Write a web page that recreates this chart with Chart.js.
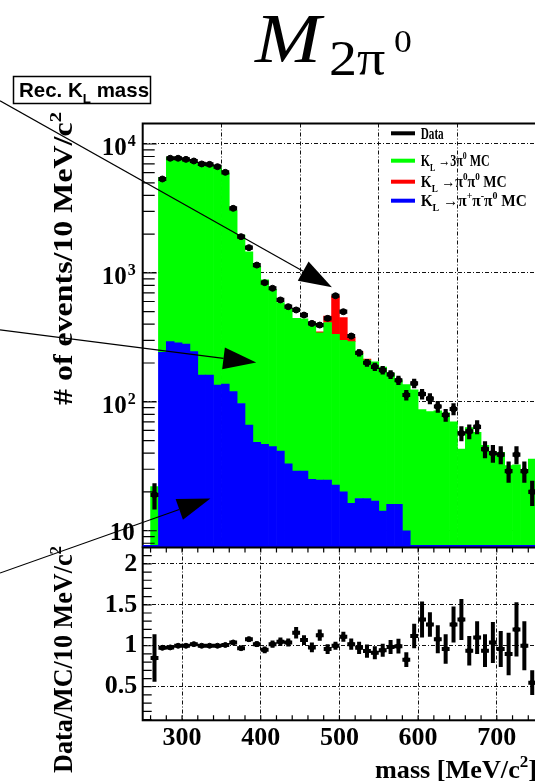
<!DOCTYPE html>
<html lang="en">
<head>
<meta charset="utf-8">
<title>M(2pi0) reconstructed mass</title>
<script src="https://cdn.jsdelivr.net/npm/chart.js@4.4.1/dist/chart.umd.min.js"></script>
<style>
  html, body { margin: 0; padding: 0; background: #fff; overflow: hidden; }
  #page { position: relative; width: 535px; height: 784px; overflow: hidden; background: #fff; }
  #page canvas { position: absolute; left: 0; top: 0; }
</style>
</head>
<body>
<div id="page">
  <canvas id="upper" width="600" height="784"></canvas>
  <canvas id="lower" width="600" height="784"></canvas>
</div>
<script>
const SERIF = '"Liberation Serif", "Times New Roman", serif';
const SANS = '"Liberation Sans", Arial, sans-serif';

/* 10 MeV/c^2 bins (centres) */
const binCenters = [265, 275, 285, 295, 305, 315, 325, 335, 345, 355,
  365, 375, 385, 395, 405, 415, 425, 435, 445, 455,
  465, 475, 485, 495, 505, 515, 525, 535, 545, 555,
  565, 575, 585, 595, 605, 615, 625, 635, 645, 655,
  665, 675, 685, 695, 705, 715, 725, 735, 745];
const binWidth = 10;

/* events per bin */
const dataCounts = [19, 5350, 7750, 7750, 7600, 7380, 7000, 6950, 6670, 6030,
  3170, 1910, 1570, 1150, 840, 760, 617, 547, 516, 471,
  406, 394, 444, 665, 500, 324, 240, 201, 187, 176,
  163, 147, 113, 139, 115, 106, 92, 79, 88, 57,
  59, 64, 43, 40, 39, 29, 39, 29, 20];

/* K_L -> pi+ pi- pi0 MC */
const mcPiPiPi0 = [0, 242, 293, 287, 281, 245, 161, 161, 135, 137,
  120, 97, 66, 48.5, 46.8, 44.9, 41.5, 33, 29, 29,
  25, 24.7, 24.7, 22.6, 20, 16.3, 17.8, 17.8, 17, 14.2,
  16, 16, 10, 0, 0, 0, 0, 0, 0, 0,
  0, 0, 0, 0, 0, 0, 0, 0, 0];

/* K_L -> 3pi0 MC */
const mc3Pi0 = [22, 5245, 7615, 7463, 7319, 6990, 6839, 6789, 6535, 5833,
  2928, 1872, 1388, 1079, 837, 700, 546, 493, 416, 411,
  389, 318, 388, 312, 280, 277, 220, 193, 187, 172,
  150, 132, 126, 124, 87, 84, 85, 82, 70, 43,
  63, 58, 46, 38.5, 40.6, 32, 32.5, 29, 36];

/* K_L -> pi0 pi0 MC */
const mc2Pi0 = [0, 0, 0, 0, 0, 0, 0, 0, 0, 0,
  0, 0, 0, 0, 0, 0, 0, 0, 0, 0,
  0, 6, 50, 330, 150, 25, 8, 4, 0, 0,
  0, 0, 0, 0, 0, 0, 0, 0, 0, 0,
  0, 0, 0, 0, 0, 0, 0, 0, 0];

/* Data / MC */
const ratioValues = [0.85, 0.975, 0.98, 1.0, 1.0, 1.02, 1.0, 1.0, 1.0, 1.01,
  1.04, 0.97, 1.08, 1.02, 0.95, 1.02, 1.05, 1.04, 1.16, 1.07,
  0.98, 1.13, 0.96, 1.0, 1.11, 1.02, 0.975, 0.935, 0.915, 0.945,
  0.985, 0.995, 0.83, 1.12, 1.32, 1.26, 1.08, 0.96, 1.26, 1.32,
  0.94, 1.10, 0.94, 1.04, 0.96, 0.90, 1.20, 1.0, 0.55];
const ratioErrors = [0.29, 0.012, 0.012, 0.012, 0.012, 0.012, 0.012, 0.012, 0.012, 0.013,
  0.02, 0.025, 0.03, 0.035, 0.04, 0.045, 0.05, 0.05, 0.07, 0.06,
  0.06, 0.07, 0.06, 0.05, 0.06, 0.07, 0.075, 0.08, 0.08, 0.08,
  0.085, 0.09, 0.09, 0.15, 0.22, 0.15, 0.17, 0.18, 0.22, 0.25,
  0.18, 0.20, 0.20, 0.25, 0.22, 0.26, 0.33, 0.30, 0.15];

/* axes */
const massRange = [250, 800];
const countRange = [7.52, 14420];
const ratioRange = [0.09, 2.2];
const massTicks = [300, 400, 500, 600, 700, 800];
const countTicks = [10, 100, 1000, 10000];
const ratioTicks = [0.5, 1, 1.5, 2];

/* arrows from the left margin: tail height in counts, tip in (mass, counts) */
const arrows = [
  { tailCount: 21600, tipMass: 490.5, tipCount: 773 },
  { tailCount: 361, tipMass: 394.3, tipCount: 202 },
  { tailCount: 4.7, tipMass: 336, tipCount: 17.8 }
];

const legendRows = [
  { color: '#000000', width: 23, parts: [['Data', 0]] },
  { color: '#00ff00', width: 69, parts: [['K', 0], ['L', 1], [' \u21923\u03c0', 0], ['0', 2], [' MC', 0]] },
  { color: '#ff0000', width: 86, parts: [['K', 0], ['L', 1], [' \u2192\u03c0', 0], ['0', 2], ['\u03c0', 0], ['0', 2], [' MC', 0]] },
  { color: '#0000ff', width: 106, parts: [['K', 0], ['L', 1], [' \u2192\u03c0', 0], ['+', 2], ['\u03c0', 0], ['-', 2], ['\u03c0', 0], ['0', 2], [' MC', 0]] }
];

/* ---- text helpers: parts are [text, kind], kind 0 normal, 1 sub, 2 sup ---- */
function richText(ctx, parts, x, y, size, style, family, draw) {
  let cx = x;
  for (const [t, kind] of parts) {
    const s = kind ? size * 0.65 : size;
    const dy = kind === 1 ? size * 0.28 : (kind === 2 ? -size * 0.42 : 0);
    ctx.font = style + ' ' + s + 'px ' + family;
    if (draw !== false) ctx.fillText(t, cx, y + dy);
    cx += ctx.measureText(t).width;
  }
  return cx - x;
}

// squeeze or stretch a line of text to a given length
function fittedText(ctx, parts, x, y, size, style, family, length, align) {
  const w = richText(ctx, parts, 0, 0, size, style, family, false);
  const sx = length / w;
  ctx.save();
  ctx.translate(align === 'right' ? x - length : (align === 'center' ? x - length / 2 : x), y);
  ctx.scale(sx, 1);
  ctx.textAlign = 'left';
  ctx.textBaseline = 'alphabetic';
  richText(ctx, parts, 0, 0, size, style, family);
  ctx.restore();
}

function strokeSegments(ctx, segs) {
  ctx.beginPath();
  for (const s of segs) { ctx.moveTo(s[0], s[1]); ctx.lineTo(s[2], s[3]); }
  ctx.stroke();
}

function gridAxis(extra) {
  return Object.assign({
    grid: { color: '#111', lineWidth: 1, drawTicks: false },
    border: { display: false, dash: [4, 2, 1, 2] }
  }, extra);
}

/* ---- upper pad: stacked MC and data ---- */
const upperDecor = {
  id: 'upperDecor',
  afterDatasetsDraw(chart) {
    const { ctx, chartArea: a, scales: { x, y } } = chart;
    ctx.save();
    ctx.beginPath();
    ctx.rect(a.left, a.top, a.right - a.left, a.bottom - a.top);
    ctx.clip();
    // data with statistical errors
    ctx.strokeStyle = '#000';
    ctx.lineWidth = 4.2;
    const segs = [];
    binCenters.forEach((c, i) => {
      const n = dataCounts[i], e = Math.sqrt(n);
      const px = x.getPixelForValue(c), py = y.getPixelForValue(n);
      segs.push([x.getPixelForValue(c - binWidth / 2), py, x.getPixelForValue(c + binWidth / 2), py]);
      segs.push([px, y.getPixelForValue(n + e), px, y.getPixelForValue(n - e)]);
    });
    strokeSegments(ctx, segs);
    ctx.restore();

    // frame and inner ticks
    ctx.save();
    ctx.strokeStyle = '#000';
    ctx.lineWidth = 2;
    ctx.strokeRect(a.left, a.top, a.right - a.left, a.bottom - a.top);
    ctx.lineWidth = 1.2;
    const ticks = [];
    for (let k = 0; k <= 4; k++) {
      for (let m = 1; m <= 9; m++) {
        const v = m * Math.pow(10, k);
        if (v < countRange[0] || v > countRange[1]) continue;
        const py = y.getPixelForValue(v);
        ticks.push([a.left, py, a.left + (m === 1 ? 14 : 12), py]);
      }
    }
    strokeSegments(ctx, ticks);
    // empty-bin outline of the pi+pi-pi0 histogram
    ctx.strokeStyle = '#0000ff';
    ctx.lineWidth = 2.5;
    strokeSegments(ctx, [[a.left, a.bottom - 0.5, a.right, a.bottom - 0.5]]);
    ctx.restore();
  },
  afterDraw(chart) {
    const { ctx, chartArea: a, scales: { y } } = chart;
    ctx.save();
    ctx.fillStyle = '#000';
    ctx.textBaseline = 'alphabetic';

    // y tick labels 10^n
    countTicks.forEach(v => {
      const py = y.getPixelForValue(v);
      const exp = Math.round(Math.log10(v));
      ctx.textAlign = 'right';
      if (exp === 1) {
        ctx.font = 'bold 25px ' + SERIF;
        ctx.fillText('10', a.left - 8, py + 9);
      } else {
        ctx.font = 'bold 16px ' + SERIF;
        ctx.fillText(String(exp), a.left - 7, py + 2);
        const ew = ctx.measureText(String(exp)).width;
        ctx.font = 'bold 25px ' + SERIF;
        ctx.fillText('10', a.left - 8 - ew, py + 11);
      }
    });
    ctx.textAlign = 'left';

    // legend
    const lx0 = a.left + 248.3, lx1 = a.left + 272.3, tx = a.left + 278;
    const rowY = [9.8, 37.2, 58.2, 77.2];
    legendRows.forEach((row, i) => {
      const ry = a.top + rowY[i];
      ctx.strokeStyle = row.color;
      ctx.lineWidth = 4;
      strokeSegments(ctx, [[lx0, ry, lx1, ry]]);
      ctx.fillStyle = '#000';
      fittedText(ctx, row.parts, tx, ry + 5.5, 16.5, 'bold', SERIF, row.width, 'left');
    });

    // title
    ctx.save();
    ctx.translate(255, 62);
    ctx.scale(1.13, 1);
    ctx.font = 'italic 70px ' + SERIF;
    ctx.fillText('M', 0, 0);
    ctx.restore();
    ctx.save();
    ctx.translate(329, 75);
    ctx.scale(1.12, 1);
    ctx.font = '50px ' + SERIF;
    ctx.fillText('2\u03c0', 0, 0);
    ctx.restore();
    ctx.save();
    ctx.translate(394, 52);
    ctx.scale(1.15, 1);
    ctx.font = '31px ' + SERIF;
    ctx.fillText('0', 0, 0);
    ctx.restore();

    // selection label
    ctx.lineWidth = 1.5;
    ctx.strokeStyle = '#000';
    ctx.strokeRect(13.5, 76.5, 137, 27);
    richText(ctx, [['Rec. K', 0], ['L', 1], [' mass', 0]], 19, 97, 20.5, 'bold', SANS);

    // y axis title
    ctx.save();
    ctx.translate(72, 258.5);
    ctx.rotate(-Math.PI / 2);
    fittedText(ctx, [['# of events/10 MeV/c', 0], ['2', 2]], 0, 0, 27, 'bold', SERIF, 293, 'center');
    ctx.restore();
    ctx.restore();
  }
};

const upperChart = new Chart(document.getElementById('upper'), {
  type: 'bar',
  data: {
    datasets: [
      {
        type: 'scatter', label: 'Data', order: 0,
        data: binCenters.map((c, i) => ({ x: c, y: dataCounts[i] })),
        backgroundColor: '#000', borderColor: '#000', pointRadius: 3, pointStyle: 'circle'
      },
      {
        label: 'K_L -> pi+ pi- pi0 MC', order: 1, stack: 'mc',
        data: binCenters.map((c, i) => ({ x: c, y: mcPiPiPi0[i] })),
        backgroundColor: '#0000ff', borderWidth: 0
      },
      {
        label: 'K_L -> 3pi0 MC', order: 1, stack: 'mc',
        data: binCenters.map((c, i) => ({ x: c, y: mc3Pi0[i] })),
        backgroundColor: '#00ff00', borderWidth: 0
      },
      {
        label: 'K_L -> pi0 pi0 MC', order: 1, stack: 'mc',
        data: binCenters.map((c, i) => ({ x: c, y: mc2Pi0[i] })),
        backgroundColor: '#ff0000', borderWidth: 0
      }
    ]
  },
  options: {
    responsive: false,
    animation: false,
    devicePixelRatio: 1,
    barPercentage: 1,
    categoryPercentage: 1,
    layout: { padding: { top: 123.5, right: 24.5, bottom: 237.3, left: 0 } },
    plugins: { legend: { display: false }, tooltip: { enabled: false } },
    scales: {
      x: gridAxis({
        type: 'linear', min: massRange[0], max: massRange[1], offset: false,
        afterBuildTicks: s => { s.ticks = massTicks.map(v => ({ value: v })); },
        afterFit: s => { s.height = 0; },
        ticks: { display: false }
      }),
      y: gridAxis({
        type: 'logarithmic', min: countRange[0], max: countRange[1], stacked: true,
        afterBuildTicks: s => { s.ticks = countTicks.map(v => ({ value: v })); },
        afterFit: s => { s.width = 142.7; },
        ticks: { display: false }
      })
    }
  },
  plugins: [upperDecor]
});

/* ---- lower pad: Data/MC ratio ---- */
const lowerDecor = {
  id: 'lowerDecor',
  afterDatasetsDraw(chart) {
    const { ctx, chartArea: a, scales: { x, y } } = chart;
    ctx.save();
    ctx.beginPath();
    ctx.rect(a.left, a.top, a.right - a.left, a.bottom - a.top);
    ctx.clip();
    ctx.strokeStyle = '#000';
    ctx.lineWidth = 4;
    const segs = [];
    binCenters.forEach((c, i) => {
      const r = ratioValues[i], e = ratioErrors[i];
      const px = x.getPixelForValue(c), py = y.getPixelForValue(r);
      segs.push([x.getPixelForValue(c - binWidth / 2), py, x.getPixelForValue(c + binWidth / 2), py]);
      segs.push([px, y.getPixelForValue(r + e), px, y.getPixelForValue(r - e)]);
    });
    strokeSegments(ctx, segs);
    ctx.restore();

    ctx.save();
    ctx.strokeStyle = '#000';
    ctx.lineWidth = 2;
    ctx.strokeRect(a.left, a.top, a.right - a.left, a.bottom - a.top);
    ctx.lineWidth = 1.2;
    const ticks = [];
    for (let v = 0.1; v <= ratioRange[1] + 1e-9; v += 0.1) {
      const py = y.getPixelForValue(v);
      ticks.push([a.left, py, a.left + 9, py]);
    }
    for (let m = 260; m <= massRange[1]; m += 20) {
      const px = x.getPixelForValue(m);
      ticks.push([px, a.bottom, px, a.bottom - 5]);
      ticks.push([px, a.top, px, a.top + 5]);
    }
    strokeSegments(ctx, ticks);
    ctx.restore();
  },
  afterDraw(chart) {
    const { ctx } = chart;
    ctx.save();
    ctx.fillStyle = '#000';
    // axis titles
    ctx.save();
    ctx.translate(72, 659.5);
    ctx.rotate(-Math.PI / 2);
    fittedText(ctx, [['Data/MC/10 MeV/c', 0], ['2', 2]], 0, 0, 27, 'bold', SERIF, 227, 'center');
    ctx.restore();
    fittedText(ctx, [['mass [MeV/c', 0], ['2', 2], [']', 0]], 537, 778, 26, 'bold', SERIF, 162, 'right');

    // arrows pointing into the upper pad
    const ux = upperChart.scales.x, uy = upperChart.scales.y;
    ctx.strokeStyle = '#000';
    ctx.lineWidth = 1.2;
    arrows.forEach(ar => {
      const x1 = 0, y1 = uy.getPixelForValue(ar.tailCount);
      const x2 = ux.getPixelForValue(ar.tipMass), y2 = uy.getPixelForValue(ar.tipCount);
      const ang = Math.atan2(y2 - y1, x2 - x1);
      const len = 33, half = 11;
      const bx = x2 - len * Math.cos(ang), by = y2 - len * Math.sin(ang);
      strokeSegments(ctx, [[x1, y1, bx, by]]);
      ctx.beginPath();
      ctx.moveTo(x2, y2);
      ctx.lineTo(bx + half * Math.sin(ang), by - half * Math.cos(ang));
      ctx.lineTo(bx - half * Math.sin(ang), by + half * Math.cos(ang));
      ctx.closePath();
      ctx.fill();
    });
    ctx.restore();
  }
};

const lowerChart = new Chart(document.getElementById('lower'), {
  type: 'scatter',
  data: {
    datasets: [{
      label: 'Data/MC',
      data: binCenters.map((c, i) => ({ x: c, y: ratioValues[i] })),
      backgroundColor: '#000', borderColor: '#000', pointRadius: 2.5
    }]
  },
  options: {
    responsive: false,
    animation: false,
    devicePixelRatio: 1,
    layout: { padding: { top: 547.5, right: 24.5, bottom: 0, left: 0 } },
    plugins: { legend: { display: false }, tooltip: { enabled: false } },
    scales: {
      x: gridAxis({
        type: 'linear', min: massRange[0], max: massRange[1],
        afterBuildTicks: s => { s.ticks = massTicks.map(v => ({ value: v })); },
        afterFit: s => { s.height = 63.7; },
        ticks: {
          color: '#000', padding: 2, maxRotation: 0, autoSkip: false,
          font: { family: SERIF, weight: 'bold', size: 26 },
          callback: v => String(v)
        }
      }),
      y: gridAxis({
        type: 'linear', min: ratioRange[0], max: ratioRange[1],
        afterBuildTicks: s => { s.ticks = ratioTicks.map(v => ({ value: v })); },
        afterFit: s => { s.width = 142.7; },
        ticks: {
          color: '#000', padding: 5.5,
          font: { family: SERIF, weight: 'bold', size: 26 },
          callback: v => String(v)
        }
      })
    }
  },
  plugins: [lowerDecor]
});
</script>
</body>
</html>
